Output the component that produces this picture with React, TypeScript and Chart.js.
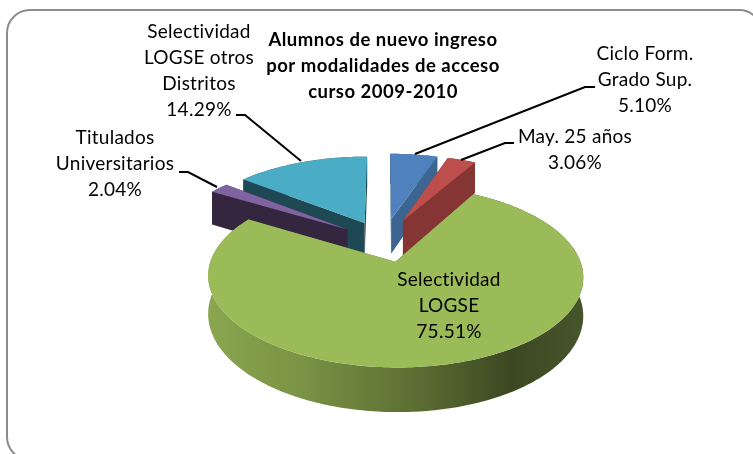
import React, { useEffect, useRef } from "react";
import { Chart, registerables } from "chart.js";

Chart.register(...registerables);

// ---- data ----
const categories: string[][] = [
  ["Ciclo Form.", "Grado Sup."],
  ["May. 25 años"],
  ["Selectividad", "LOGSE"],
  ["Titulados", "Universitarios"],
  ["Selectividad", "LOGSE otros", "Distritos"],
];
const values = [5.1, 3.06, 75.51, 2.04, 14.29];
const titleLines = ["Alumnos de nuevo ingreso", "por modalidades de acceso", "curso 2009-2010"];

// ---- styles ----
const topColors = ["#4f81bd", "#bc4f4b", "#9bbb59", "#8064a2", "#4bacc6"];
const wallColors = ["#3d6591", "#853534", "#6e8640", "#35263f", "#1e4854"];
const explodeOffsets = [200, 200, 180, 180, 180]; // chart.js draws an arc's offset at 1/4
const greenWallStops: [number, string][] = [
  [0, "#8aa64f"],
  [0.25, "#7a9345"],
  [0.55, "#5c6e33"],
  [0.8, "#3d4822"],
  [1, "#47552b"],
];
const drawOrder = [4, 3, 0, 1, 2];
const labelAnchors: [number, number][] = [
  [645, 54],
  [575, 137],
  [449, 280],
  [115, 138],
  [199, 32],
];
const leaderLines: [number, number][][] = [
  [[595, 87], [585, 87], [415, 154]],
  [[514, 143], [505, 143], [461, 160]],
  [],
  [[179, 172], [188, 172], [217, 187]],
  [[236, 115], [245, 115], [301, 161]],
];
const K = 0.156; // perspective
const TILT = 0.46;
const DEPTH = 36;
const LABEL_FONT = "19px Lato";
const LABEL_SPACING = "0.25px";
const TITLE_FONT = "bold 18.5px Lato";
const TITLE_SPACING = "0.5px";
const LINE_H = 26;

const pie3d = {
  id: "pie3d",
  beforeDraw(chart: any) {
    const { ctx, width, height } = chart;
    ctx.save();
    ctx.fillStyle = "#ffffff";
    ctx.fillRect(0, 0, width, height);
    ctx.beginPath();
    ctx.roundRect(7, 10, 755, 450, 23);
    ctx.strokeStyle = "#8c8c8c";
    ctx.lineWidth = 2;
    ctx.stroke();
    ctx.restore();
  },
  beforeDatasetsDraw(chart: any) {
    const { ctx } = chart;
    const arcs = chart.getDatasetMeta(0).data;
    ctx.save();
    for (const i of drawOrder) {
      const arc = arcs[i];
      const R = arc.outerRadius;
      const mid = (arc.startAngle + arc.endAngle) / 2;
      const off = (arc.options.offset || 0) / 4;
      const ox = Math.cos(mid) * off;
      const oy = Math.sin(mid) * off;
      const project = (px: number, py: number, z: number): [number, number] => {
        const s = 1 / (1 - (K * py) / R);
        return [arc.x + px * s, arc.y + py * TILT * s + z * DEPTH * s];
      };
      const rimPt = (a: number, z: number) =>
        project(ox + R * Math.cos(a), oy + R * Math.sin(a), z);
      const n = Math.max(2, Math.ceil(((arc.endAngle - arc.startAngle) * 180) / Math.PI));
      const angles: number[] = [];
      for (let k = 0; k <= n; k++) angles.push(arc.startAngle + ((arc.endAngle - arc.startAngle) * k) / n);

      let wall: any = wallColors[i];
      if (i === 2) {
        const g = ctx.createLinearGradient(206, 0, 587, 0);
        greenWallStops.forEach(([p, c]) => g.addColorStop(p, c));
        wall = g;
      }
      const fillPoly = (pts: [number, number][], fill: any) => {
        ctx.beginPath();
        pts.forEach((p, idx) => (idx ? ctx.lineTo(p[0], p[1]) : ctx.moveTo(p[0], p[1])));
        ctx.closePath();
        ctx.fillStyle = fill;
        ctx.fill();
      };
      // outer rim wall
      fillPoly([...angles.map((a) => rimPt(a, 0)), ...angles.slice().reverse().map((a) => rimPt(a, 1))], wall);
      // radial walls
      for (const a of [arc.startAngle, arc.endAngle]) {
        fillPoly([project(ox, oy, 0), rimPt(a, 0), rimPt(a, 1), project(ox, oy, 1)], wall);
      }
      // top face
      fillPoly([project(ox, oy, 0), ...angles.map((a) => rimPt(a, 0))], topColors[i]);
    }
    ctx.restore();
    return false;
  },
  afterDraw(chart: any) {
    const { ctx } = chart;
    ctx.save();
    ctx.strokeStyle = "#000000";
    ctx.lineWidth = 2;
    leaderLines.forEach((pts) => {
      if (!pts.length) return;
      ctx.beginPath();
      pts.forEach((p, idx) => (idx ? ctx.lineTo(p[0], p[1]) : ctx.moveTo(p[0], p[1])));
      ctx.stroke();
    });
    ctx.fillStyle = "#000000";
    ctx.textAlign = "center";
    ctx.textBaseline = "middle";
    ctx.font = LABEL_FONT;
    ctx.letterSpacing = LABEL_SPACING;
    categories.forEach((lines, i) => {
      const [x, y] = labelAnchors[i];
      [...lines, values[i].toFixed(2) + "%"].forEach((t, l) => ctx.fillText(t, x, y + l * LINE_H));
    });
    ctx.font = TITLE_FONT;
    ctx.letterSpacing = TITLE_SPACING;
    titleLines.forEach((t, l) => ctx.fillText(t, 383, 40 + l * LINE_H));
    ctx.restore();
  },
};

export default function App() {
  const ref = useRef<HTMLCanvasElement>(null);
  useEffect(() => {
    const chart = new Chart(ref.current!, {
      type: "pie",
      data: {
        labels: categories.map((c) => c.join(" ")),
        datasets: [{ data: values, backgroundColor: topColors, offset: explodeOffsets, borderWidth: 0 }],
      },
      options: {
        responsive: false,
        animation: false,
        radius: 178,
        layout: { padding: { left: 14, top: 28 } },
        plugins: { legend: { display: false }, tooltip: { enabled: false }, title: { display: false } },
      } as any,
      plugins: [pie3d as any],
    });
    return () => chart.destroy();
  }, []);
  return (
    <div style={{ position: "fixed", left: 0, top: 0, width: 753, height: 454 }}>
      <canvas ref={ref} width={753} height={454} style={{ display: "block" }} />
    </div>
  );
}
